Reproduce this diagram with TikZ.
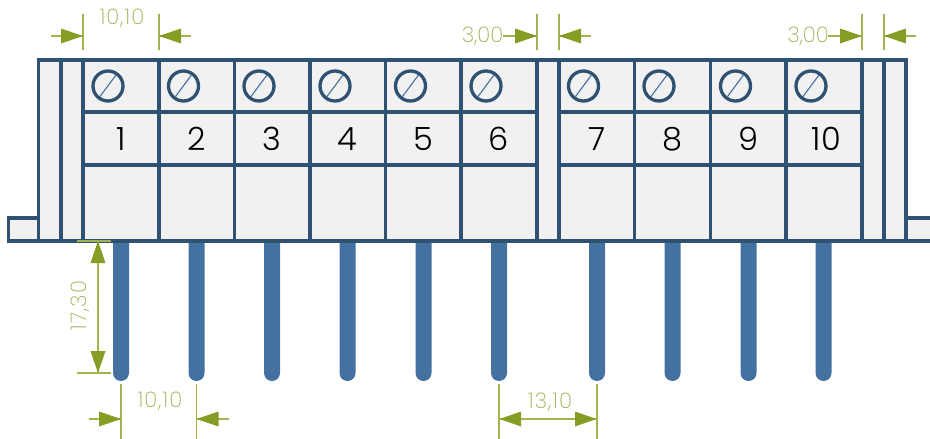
\documentclass[tikz,border=0pt]{standalone}
\usepackage{fontspec}
\setmainfont{Poppins Light}
\newfontfamily\dimfont[LetterSpace=5]{Poppins ExtraLight}
\newfontfamily\dimtight{Poppins ExtraLight}
\newfontfamily\numfont{Poppins Light}
\begin{document}
\begin{tikzpicture}[x=1pt,y=-1pt,
  frame/.style={draw=frameblue,line width=3.5pt,line cap=butt},
  pin/.style={fill=pinblue,draw=none},
  screw/.style={draw=frameblue,line width=3.3pt,fill=panel,circle,minimum size=30pt,inner sep=0pt},
  slot/.style={draw=pinblue,line width=1.1pt},
  ext/.style={draw=dimline,line width=1.3pt},
  dimline/.style={draw=dimline,line width=1.3pt},
  head/.style={fill=dimhead,draw=none},
  numlabel/.style={font=\numfont\fontsize{32}{32}\selectfont,text=black,inner sep=0pt,anchor=base},
  dimlabel/.style={font=\dimfont\fontsize{21.5}{22}\selectfont,text=dimtext,inner sep=0pt},
  dimlabeltight/.style={font=\dimtight\fontsize{21.5}{22}\selectfont,text=dimtext,inner sep=0pt}
]
\definecolor{frameblue}{HTML}{2F5172}
\definecolor{pinblue}{HTML}{44719F}
\definecolor{panel}{HTML}{F1F1F1}
\definecolor{dimline}{HTML}{A2B452}
\definecolor{dimhead}{HTML}{859C25}
\definecolor{dimtext}{HTML}{9FB255}
\useasboundingbox (0,0) rectangle (930,439);
\clip (0,0) rectangle (930,439);
% pins
\foreach \x in {121,196.5,272,347.5,423.5,499,597,672.5,748.5,823.5}{
  \fill[pin] (\x-8,241) -- (\x+8,241) -- (\x+8,373) arc[start angle=0,end angle=180,radius=8] -- cycle;
}
% body
\filldraw[frame,fill=panel] (8.5,218) rectangle (38.5,241);
\filldraw[frame,fill=panel] (940,218) rectangle (906,241);
\filldraw[frame,fill=panel] (38.5,60) rectangle (906,241);
\foreach \x in {61,83,159,234.5,310,385.5,461,537,559,634.5,710.5,786,862,884}{
  \draw[frame] (\x,60) -- (\x,241);
}
\foreach \y in {112,165}{
  \draw[frame] (83,\y) -- (537,\y);
  \draw[frame] (559,\y) -- (862,\y);
}
% screws and numbers
\foreach \n/\x/\c in {1/108/121,2/183.5/196.5,3/259/272,4/335/347.5,5/410.5/423.5,6/486/499,7/583.5/597,8/659/672.5,9/735.5/748.5,10/811/826.5}{
  \node[screw] (s\n) at (\x,86) {};
  \draw[slot] ([shift={(-8,10.5)}]s\n.center) -- ([shift={(8,-11)}]s\n.center);
  \node[numlabel] (n\n) at (\c,150) {\n};
}
% extension line anchors
\foreach \n/\x in {a/83,b/159,c/537,d/559,e/862,f/884}{
  \coordinate (\n1) at (\x,14);
  \coordinate (\n2) at (\x,50);
  \draw[ext] (\n1) -- (\n2);
}
\foreach \n/\x in {g/121,h/196.5,i/499,j/597}{
  \coordinate (\n1) at (\x,384);
  \coordinate (\n2) at (\x,439);
  \draw[ext] (\n1) -- (\n2);
}
\coordinate (k1) at (77,241); \coordinate (k2) at (111,241);
\coordinate (l1) at (77,373); \coordinate (l2) at (111,373);
\draw[ext] (k1) -- (k2);
\draw[ext] (l1) -- (l2);
% horizontal arrows: tip x / y / direction / tail length
\foreach \t/\y/\d/\l in {83/36/-1/32,159/36/1/32,537/36/-1/34,559/36/1/32,862/36/-1/34,884/36/1/32,121/419/-1/32,196.5/419/1/32}{
  \draw[dimline] (\t,\y) -- (\t+\d*\l,\y);
  \fill[head] (\t,\y) -- (\t+\d*22,\y-7.5) -- (\t+\d*22,\y+7.5) -- cycle;
}
% 13,10
\draw[dimline] (499,419) -- (597,419);
\fill[head] (499.5,419) -- (521,411.5) -- (521,426.5) -- cycle;
\fill[head] (596.5,419) -- (575,411.5) -- (575,426.5) -- cycle;
% 17,30
\draw[dimline] (98,241) -- (98,373);
\fill[head] (98,241) -- (90.5,263) -- (105.5,263) -- cycle;
\fill[head] (98,373) -- (90.5,351) -- (105.5,351) -- cycle;
% labels
\node[dimlabel,anchor=base] (t1) at (122,24) {10,10};
\node[dimlabeltight,anchor=base east] (t2) at (503.5,42) {3,00};
\node[dimlabeltight,anchor=base east] (t3) at (829,42) {3,00};
\node[dimlabel,rotate=90,anchor=base] (t4) at (86,305.5) {17,30};
\node[dimlabel,anchor=base] (t5) at (160,407.5) {10,10};
\node[dimlabel,anchor=base] (t6) at (550,408) {13,10};
\end{tikzpicture}
\end{document}
